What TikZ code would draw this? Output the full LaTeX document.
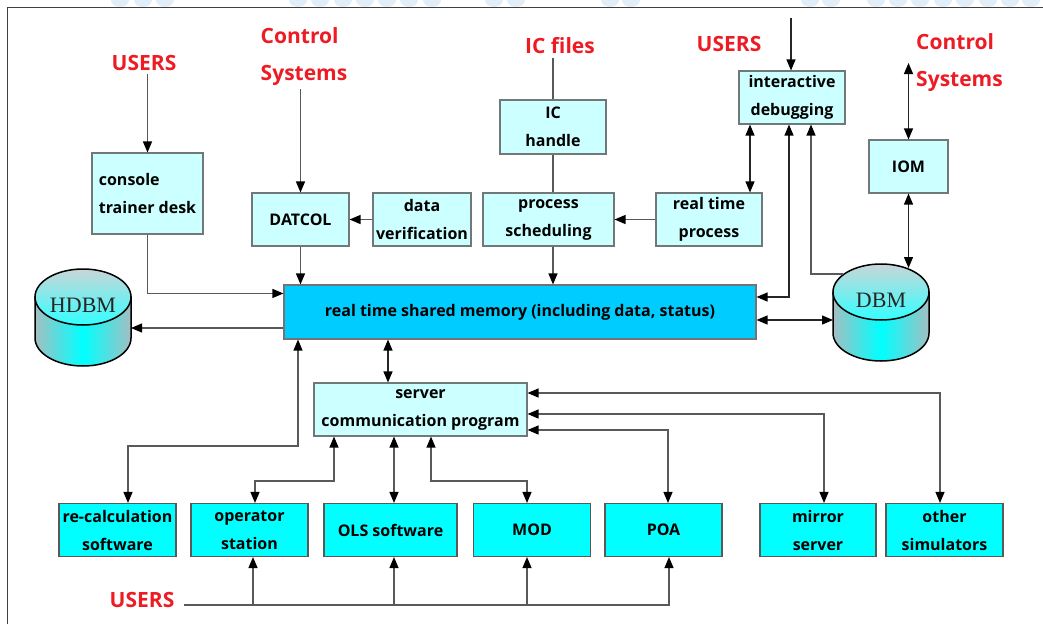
\documentclass[tikz,border=0pt]{standalone}
\usepackage{fontspec}
\newfontfamily\sansfont{Open Sans}
\newfontfamily\drumfont{Liberation Serif}
\usetikzlibrary{arrows.meta,calc}
\definecolor{boxcyan}{HTML}{CCFFFF}
\definecolor{memblue}{HTML}{00CCFF}
\definecolor{appcyan}{HTML}{00FFFF}
\definecolor{lblred}{HTML}{ED1C24}
\definecolor{wiregray}{HTML}{595959}
\definecolor{edgegray}{HTML}{707878}
\definecolor{drumside}{HTML}{A3BFC2}
\definecolor{drumtop}{HTML}{C9D6D8}
\definecolor{dotblue}{HTML}{E1EEF7}

\tikzset{
  box/.style={draw=edgegray, line width=1.1pt, fill=boxcyan, align=center, inner sep=0pt,
    minimum height=53pt, font=\sansfont\bfseries\fontsize{16}{28}\selectfont},
  appbox/.style={box, fill=appcyan, draw=black!65},
  tag/.style={text=lblred, align=left, font=\sansfont\bfseries\fontsize{21}{37}\selectfont},
  wire/.style={draw=wiregray, line width=1.2pt},
  darkwire/.style={draw=black!85, line width=1.2pt},
  >={Triangle[length=11pt,width=9pt,color=black]}
}

\begin{document}
\begin{tikzpicture}[x=1pt,y=-1pt]
\useasboundingbox (0,0) rectangle (1043,624);
% dots and frame
\foreach \d in {120,143,165,298,320,343,365,387,409,432,494,516,610,631,810,831,876,898,920,943,965,988,1010,1031}
  \fill[dotblue] (\d-9,0) arc[start angle=180, end angle=0, x radius=9, y radius=7] -- cycle;
\draw[black!75, line width=1pt] (7,624) -- (7,7) -- (1043,7);

\node[tag] (users1) at (144,63) {USERS};
\node[tag] (ctrl1) at (304,56.5) {Control\\Systems};
\node[tag] (icfiles) at (560,46) {IC files};
\node[tag] (users2) at (729,44) {USERS};
\node[tag] (ctrl2) at (959.5,63) {Control\\Systems};
\node[tag] (users3) at (142,600) {USERS};

\node[box, align=left, minimum width=111pt, minimum height=81pt] (console) at (147.5,193.5) {console\\trainer desk};
\node[box, minimum width=97pt] (datcol) at (300.5,219.5) {DATCOL};
\node[box, minimum width=98pt] (dataver) at (422,219.5) {data\\verification};
\node[box, minimum width=106pt, minimum height=54pt] (ichandle) at (553,127) {IC\\handle};
\node[box, minimum width=131pt] (procsched) at (548.5,219.5) {process\\scheduling};
\node[box, minimum width=106pt] (rtproc) at (709,219.5) {real time\\process};
\node[box, minimum width=106pt] (intdebug) at (792,97.5) {interactive\\debugging};
\node[box, minimum width=79pt] (iom) at (908.5,166.5) {IOM};
\node[box, fill=memblue, draw=black!55, minimum width=472pt, minimum height=54pt] (rtsm) at (520,312)
  {real time shared memory (including data, status)};
\node[box, minimum width=213pt] (server) at (420.5,409.5) {server\\communication program};

\foreach \nm/\cx/\bw/\txt in {recalc/117.5/117/{re-calculation\\software}, opstation/249.5/117/{operator\\station},
    ols/390.5/133/{OLS software}, mod/532/117/{MOD}, poa/663.5/117/{POA},
    mirror/818/116/{mirror\\server}, othersim/944.5/117/{other\\simulators}}
  \node[appbox, minimum width=\bw pt] (\nm) at (\cx,530) {\txt};

% databases
\foreach \nm/\cx/\ty/\by/\txt in {hdbm/83/297/338/HDBM, dbm/881/292/333/DBM}{
  \draw[black, line width=1.5pt, left color=drumside, right color=drumside, middle color=appcyan]
    (\cx-48,\ty) -- (\cx-48,\by) arc[start angle=180, end angle=0, x radius=48, y radius=28] -- (\cx+48,\ty) -- cycle;
  \draw[black, line width=1.5pt, top color=drumtop, bottom color=appcyan!80!white]
    (\cx,\ty) ellipse[x radius=48, y radius=28];
  \node[font=\drumfont\fontsize{22}{24}\selectfont, text=black!85] (\nm) at (\cx,\ty+8) {\txt};
}
\coordinate (hdbm-in) at (131,328);
\coordinate (dbm-in) at (833,320);
\coordinate (dbm-top) at (908,268);
\coordinate (dbm-nw) at (843,274);
\coordinate (dbg-in) at (791,18);
\coordinate (users-line) at (184,605);

\draw[wire,->] (console.north |- users1.south) -- (console.north);
\draw[wire,->] (datcol.north |- ctrl1.south) -- (datcol.north);
\draw[wire,->] (dataver) -- (datcol);
\draw[wire,->] (datcol.south) -- (datcol.south |- rtsm.north);
\draw[wire,->] (console.south) |- ($(rtsm.north west)+(0,9)$);
\draw[wire,->] (rtsm.west |- hdbm-in) -- (hdbm-in);
\draw[wire] (ichandle.north |- icfiles.south) -- (ichandle.north);
\draw[wire] (ichandle.south) -- (ichandle.south |- procsched.north);
\draw[wire,->] (ichandle.south |- procsched.south) -- (ichandle.south |- rtsm.north);
\draw[wire,->] (rtproc) -- (procsched);
\draw[darkwire,->] (dbg-in) -- (intdebug.north -| dbg-in);
\draw[darkwire,<->] (intdebug.south -| 750,0) -- (rtproc.north -| 750,0);
\draw[darkwire,<->] (rtsm.east |- 0,297) -| (intdebug.south -| 789,0);
\draw[wire,->] (dbm-nw) -| (intdebug.south -| 811,0);
\draw[darkwire,<->] (iom.north |- ctrl2.west) -- (iom.north);
\draw[darkwire,<->] (iom.south) -- (iom.south |- dbm-top);
\draw[darkwire,<->] (rtsm.east |- dbm-in) -- (dbm-in);

\draw[darkwire,<->] (rtsm.south -| 388,0) -- (server.north -| 388,0);
\draw[wire,<->] (rtsm.south -| 298,0) -- (298,446) -| (recalc.north -| 128,0);
\draw[wire,<->] (server.south -| 334,0) -- (334,481) -| (opstation.north -| 255,0);
\draw[wire,<->] (server.south -| 394,0) -- (ols.north -| 394,0);
\draw[wire,<->] (server.south -| 431,0) -- (431,481) -| (mod.north -| 527,0);
\draw[wire,<->] (server.east |- 0,430) -| (poa.north -| 668,0);
\draw[wire,<->] (server.east |- 0,414) -| (mirror.north -| 824,0);
\draw[wire,<->] (server.east |- 0,393) -| (othersim.north -| 940,0);

\draw[wire,->] (users-line) -| (poa.south -| 669,0);
\foreach \bx/\px in {opstation/253, ols/394, mod/527}
  \draw[wire,->] (users-line -| \px,0) -- (\bx.south -| \px,0);
\end{tikzpicture}
\end{document}
